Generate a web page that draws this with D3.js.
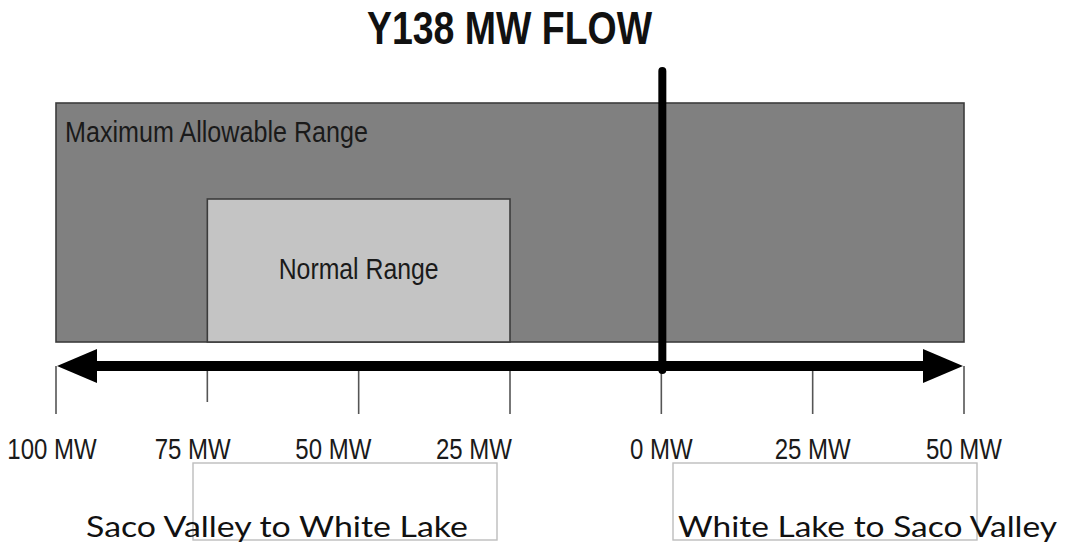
<!DOCTYPE html>
<html>
<head>
<meta charset="utf-8">
<script src="https://cdn.jsdelivr.net/npm/d3@7"></script>
<style>
  html, body { margin: 0; padding: 0; background: #fff; }
  svg { display: block; }
</style>
</head>
<body>
<svg id="chart" width="1067" height="546"></svg>
<script>
// ---- Data ----
const titleText = "Y138 MW FLOW";
const maxRange = [-100, 50];          // Maximum Allowable Range (MW, negative = Saco Valley -> White Lake)
const normalRange = [-75, -25];       // Normal Range
const zeroFlow = 0;
const tickValues = [-100, -75, -50, -25, 0, 25, 50];
const tickLabels = ["100 MW", "75 MW", "50 MW", "25 MW", "0 MW", "25 MW", "50 MW"];
const rangeLabels = ["Maximum Allowable Range", "Normal Range"];
const directionLabels = ["Saco Valley to White Lake", "White Lake to Saco Valley"];

// ---- Layout ----
const svg = d3.select("#chart");
const narrow = "'Liberation Sans Narrow', 'Arial Narrow', 'Liberation Sans', Arial, sans-serif";
const x = d3.scaleLinear().domain(maxRange).range([56, 964]);
// labels on the left side sit slightly left of their ticks in the original
const xLabelLeft = d3.scaleLinear().domain([-100, -25]).range([52, 474]);
const labelX = v => v < 0 ? xLabelLeft(v) : x(v);

const boxTop = 103, boxBottom = 342, normalTop = 199;
const axisY = 366;

// Title
svg.append("text")
  .attr("x", 509.5).attr("y", 44)
  .attr("text-anchor", "middle")
  .attr("font-family", narrow)
  .attr("font-weight", "bold")
  .attr("font-size", 46)
  .attr("textLength", 285).attr("lengthAdjust", "spacingAndGlyphs")
  .attr("fill", "#111")
  .text(titleText);

// Maximum allowable range box
svg.append("rect")
  .attr("x", x(maxRange[0])).attr("y", boxTop)
  .attr("width", x(maxRange[1]) - x(maxRange[0]))
  .attr("height", boxBottom - boxTop)
  .attr("fill", "#808080").attr("stroke", "#3c3c3c").attr("stroke-width", 1.6);

svg.append("text")
  .attr("x", x(maxRange[0]) + 9).attr("y", 142)
  .attr("font-family", narrow).attr("font-size", 30)
  .attr("textLength", 303).attr("lengthAdjust", "spacingAndGlyphs")
  .attr("fill", "#1a1a1a")
  .text(rangeLabels[0]);

// Normal range box
svg.append("rect")
  .attr("x", x(normalRange[0])).attr("y", normalTop)
  .attr("width", x(normalRange[1]) - x(normalRange[0]))
  .attr("height", boxBottom - normalTop)
  .attr("fill", "#c4c4c4").attr("stroke", "#3c3c3c").attr("stroke-width", 1.6);

svg.append("text")
  .attr("x", (x(normalRange[0]) + x(normalRange[1])) / 2).attr("y", 279)
  .attr("text-anchor", "middle")
  .attr("font-family", narrow).attr("font-size", 30)
  .attr("textLength", 160).attr("lengthAdjust", "spacingAndGlyphs")
  .attr("fill", "#1a1a1a")
  .text(rangeLabels[1]);

// Ticks
const tickBottom = v => v === -75 ? 402 : 414;
svg.append("g").selectAll("line")
  .data(tickValues).join("line")
  .attr("x1", d => x(d)).attr("x2", d => x(d))
  .attr("y1", axisY).attr("y2", d => tickBottom(d))
  .attr("stroke", "#555").attr("stroke-width", 1.6);

// Tick labels (condensed horizontally to mimic a narrow face)
svg.append("g").selectAll("text")
  .data(tickValues).join("text")
  .attr("transform", d => `translate(${labelX(d)},459) scale(0.8,1)`)
  .attr("text-anchor", "middle")
  .attr("font-family", narrow).attr("font-size", 30)
  .attr("fill", "#1a1a1a")
  .text((d, i) => tickLabels[i]);

// Double-headed arrow
const headLen = 41, headHalf = 17, shaft = 10;
const x0 = x(maxRange[0]), x1 = x(maxRange[1]);
svg.append("line")
  .attr("x1", x0 + headLen - 2).attr("x2", x1 - headLen + 2)
  .attr("y1", axisY).attr("y2", axisY)
  .attr("stroke", "#000").attr("stroke-width", shaft);
svg.append("path")
  .attr("d", `M${x0 + 1},${axisY} L${x0 + headLen},${axisY - headHalf} L${x0 + headLen},${axisY + headHalf} Z`)
  .attr("fill", "#000");
svg.append("path")
  .attr("d", `M${x1 - 1},${axisY} L${x1 - headLen},${axisY - headHalf} L${x1 - headLen},${axisY + headHalf} Z`)
  .attr("fill", "#000");

// Zero flow vertical line
svg.append("line")
  .attr("x1", x(zeroFlow) + 1).attr("x2", x(zeroFlow) + 1)
  .attr("y1", 71).attr("y2", 370)
  .attr("stroke", "#000").attr("stroke-width", 8)
  .attr("stroke-linecap", "round");

// Direction boxes and labels
const boxX = [[193, 497], [673, 977]];
svg.append("g").selectAll("rect")
  .data(boxX).join("rect")
  .attr("x", d => d[0]).attr("y", 463)
  .attr("width", d => d[1] - d[0]).attr("height", 77)
  .attr("fill", "none").attr("stroke", "#bdbdbd").attr("stroke-width", 1.4);

const dirTextX = [86, 678];
const dirTextW = [382, 379];
svg.append("g").selectAll("text")
  .data(directionLabels).join("text")
  .attr("x", (d, i) => dirTextX[i]).attr("y", 537)
  .attr("font-family", "Lato, 'Open Sans', sans-serif")
  .attr("font-size", 29.5)
  .attr("textLength", (d, i) => dirTextW[i]).attr("lengthAdjust", "spacingAndGlyphs")
  .attr("fill", "#111")
  .text(d => d);
</script>
</body>
</html>
